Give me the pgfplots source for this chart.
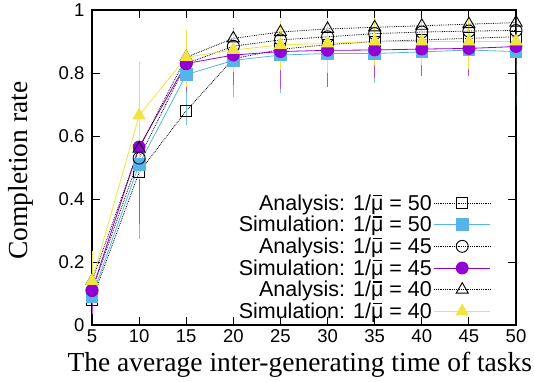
\documentclass[border=0pt]{standalone}
\usepackage{fontspec}
\setmainfont{Liberation Sans}
\newfontfamily\serifx{Liberation Serif}
\usepackage{pgfplots}
\usepackage{pgfplotstable}
\pgfplotsset{compat=1.18}
\definecolor{cblue}{HTML}{56B4E9}
\definecolor{cpurp}{HTML}{9400D3}
\definecolor{cyell}{HTML}{F0E442}
\newcommand{\mub}{\leavevmode\rlap{\hspace{0.07em}\rule[0.66em]{0.44em}{0.055em}}μ}

\pgfplotstableread{
x y
5 0.08
10 0.485
15 0.68
20 0.845
25 0.875
30 0.89
35 0.90
40 0.905
45 0.91
50 0.915
}\anaA
\pgfplotstableread{
x y
5 0.11
10 0.53
15 0.83
20 0.885
25 0.905
30 0.915
35 0.925
40 0.93
45 0.933
50 0.935
}\anaB
\pgfplotstableread{
x y
5 0.14
10 0.56
15 0.85
20 0.91
25 0.93
30 0.94
35 0.945
40 0.95
45 0.955
50 0.96
}\anaC
\pgfplotstableread{
x y ep em
5 0.09 0.11 0.03
10 0.51 0.29 0.22
15 0.795 0.095 0.145
20 0.84 0.08 0.10
25 0.857 0.073 0.104
30 0.862 0.078 0.092
35 0.862 0.078 0.078
40 0.867 0.063 0.057
45 0.873 0.067 0.063
50 0.868 0.09 0.158
}\simA
\pgfplotstableread{
x y ep em
5 0.11 0.065 0.06
10 0.565 0.22 0.23
15 0.83 0.07 0.075
20 0.857 0.07 0.08
25 0.868 0.07 0.103
30 0.872 0.075 0.10
35 0.873 0.075 0.073
40 0.876 0.07 0.07
45 0.878 0.07 0.072
50 0.884 0.07 0.07
}\simB
\pgfplotstableread{
x y ep em
5 0.14 0.08 0.04
10 0.665 0.155 0.185
15 0.85 0.07 0.08
20 0.873 0.05 0.053
25 0.889 0.06 0.064
30 0.894 0.06 0.078
35 0.90 0.06 0.06
40 0.90 0.06 0.06
45 0.90 0.06 0.07
50 0.90 0.06 0.09
}\simC

\begin{document}
\begin{tikzpicture}
\begin{axis}[
  at={(0pt,0pt)}, anchor=south west,
  scale only axis, width=424pt, height=315pt,
  xmin=5, xmax=50, ymin=0, ymax=1,
  xtick={5,10,...,50}, xticklabels={5,10,15,20,25,30,35,40,45,50},
  ytick={0,0.2,0.4,0.6,0.8,1}, yticklabels={0,0.2,0.4,0.6,0.8,1},
  tick align=inside, major tick length=8pt,
  tick style={black, line width=0.8pt},
  axis line style={line width=1.1pt},
  tick label style={font=\fontsize{18.5}{18.5}\selectfont},
  xticklabel style={yshift=-1pt},
  yticklabel style={xshift=-4pt},
  xlabel={The average inter-generating time of tasks},
  ylabel={Completion rate},
  xlabel style={font=\serifx\fontsize{27.5}{27.5}\selectfont, at={(axis description cs:0.49,0)}, anchor=base, yshift=-46pt},
  ylabel style={font=\serifx\fontsize{27.5}{27.5}\selectfont, at={(axis description cs:-0.168,0.49)}, anchor=center},
  clip=true,
  legend plot pos=right,
  legend cell align=right,
  legend style={at={(0.943,0.006)}, anchor=south east, draw=none, fill=none,
    font=\fontsize{21.5}{22}\selectfont, row sep=0.6pt, inner sep=1pt},
  legend image code/.code={
    \draw[mark repeat=2, mark phase=2, #1] plot coordinates {(12pt,0pt) (40pt,0pt) (68pt,0pt)};},
]
\addplot[black, densely dotted, line width=0.8pt, mark=square, mark size=5.5pt, mark options={solid, line width=0.9pt}] table[x=x,y=y] {\anaA};
\addlegendentry{Analysis: 1/\mub{} = 50}
\addplot[cblue, line width=0.8pt, mark=square*, mark size=5.8pt, mark options={solid},
  error bars/.cd, y dir=both, y explicit, error mark options={cblue!80, line width=0.8pt, mark size=5pt}, error bar style={cblue!80, line width=0.8pt}]
  table[x=x,y=y,y error plus=ep,y error minus=em] {\simA};
\addlegendentry{Simulation: 1/\mub{} = 50}
\addplot[black, densely dotted, line width=0.8pt, mark=o, mark size=6pt, mark options={solid, line width=0.9pt}] table[x=x,y=y] {\anaB};
\addlegendentry{Analysis: 1/\mub{} = 45}
\addplot[cpurp, line width=0.8pt, mark=*, mark size=6pt, mark options={solid},
  error bars/.cd, y dir=both, y explicit, error mark options={cpurp!70, line width=0.8pt, mark size=5pt}, error bar style={cpurp!70, line width=0.8pt}]
  table[x=x,y=y,y error plus=ep,y error minus=em] {\simB};
\addlegendentry{Simulation: 1/\mub{} = 45}
\addplot[black, densely dotted, line width=0.8pt, mark=triangle, mark size=7pt, mark options={solid, line width=0.9pt}] table[x=x,y=y] {\anaC};
\addlegendentry{Analysis: 1/\mub{} = 40}
\addplot[cyell, line width=0.8pt, mark=triangle*, mark size=7pt, mark options={solid},
  error bars/.cd, y dir=both, y explicit, error mark options={cyell, line width=0.8pt, mark size=5pt}, error bar style={cyell, line width=0.8pt}]
  table[x=x,y=y,y error plus=ep,y error minus=em] {\simC};
\addlegendentry{Simulation: 1/\mub{} = 40}
\end{axis}
\pgfresetboundingbox
\useasboundingbox (-92pt,-56pt) rectangle (442pt,325pt);
\end{tikzpicture}
\end{document}
